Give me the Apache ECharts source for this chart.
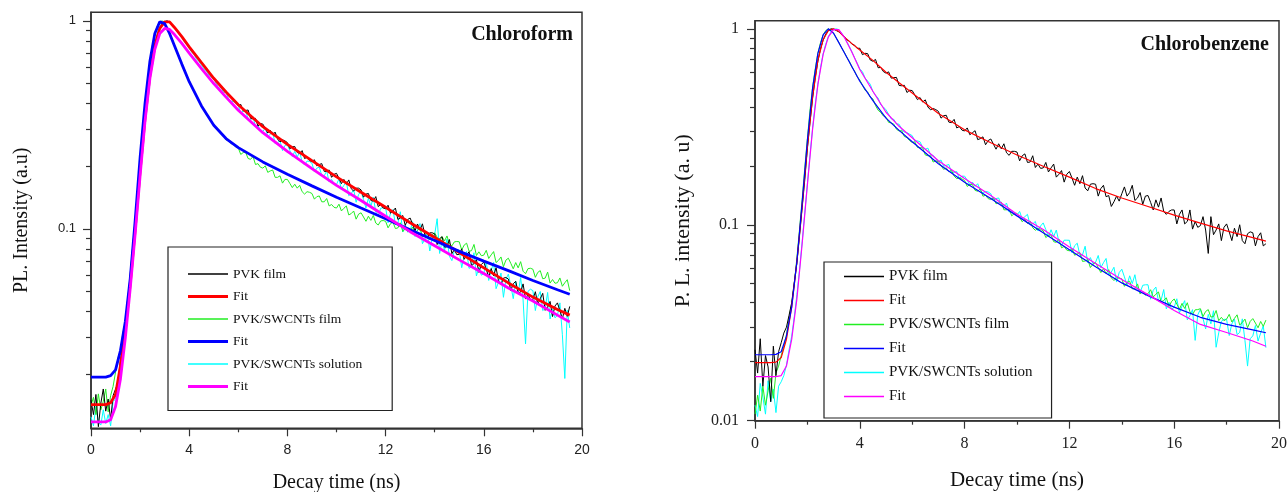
<!DOCTYPE html>
<html><head><meta charset="utf-8">
<script src="https://cdn.jsdelivr.net/npm/echarts@6.0.0/dist/echarts.min.js"></script>
<style>html,body{margin:0;padding:0;background:#fff}#c{width:1288px;height:492px}</style>
</head><body><div id="c"></div>
<script>
// ---------- data ----------
const SAMPLE_STEP = 0.1; // measured decay curves sampled every 0.1 ns from 0 to 19.5 ns

const fitTime = [0,0.6,0.8,1.0,1.2,1.4,1.6,1.8,2.0,2.2,2.4,2.6,2.8,3.0,3.2,3.4,3.7,4.0,4.5,5.0,5.5,6.0,7,8,9,10,11,12,13,14,15,16,17,18,19,19.5];

// Chloroform (left)
const leftFitPVK = [.0143,.0143,.0146,.016,.022,.033,.055,.10,.19,.34,.55,.76,.92,.99,.99,.93,.84,.75,.63,.53,.455,.395,.31,.255,.213,.178,.15,.127,.107,.091,.077,.065,.055,.047,.041,.0385];
const leftFitFilm = [.0194,.0194,.0197,.021,.026,.036,.058,.11,.22,.40,.64,.87,.99,.97,.87,.76,.62,.51,.39,.315,.272,.246,.21,.183,.161,.142,.126,.112,.099,.088,.078,.07,.063,.0565,.051,.0485];
const leftFitSolution = [.0118,.0118,.0121,.014,.019,.030,.052,.095,.18,.33,.53,.73,.87,.92,.91,.86,.78,.70,.59,.50,.43,.372,.29,.236,.195,.162,.137,.115,.097,.083,.071,.061,.052,.045,.0385,.0357];

const leftPVK = [
.0150,.0128,.0160,.0112,.0145,.0170,.0133,.0152,.0121,.0158,
.0170,.0182,.0235,.0262,.0350,.0420,.0580,.0730,.1040,.1380,
.1920,.2620,.3380,.4450,.5450,.6600,.7550,.8500,.9150,.9650,
.9900,1.000,.9850,.9650,.9280,.9050,.8650,.8450,.8050,.7850,
.7450,.7300,.6950,.6820,.6480,.6350,.6040,.5930,.5640,.5530,
.5260,.5190,.4950,.4880,.4650,.4600,.4380,.4340,.4140,.4100,
.391,.397,.369,.371,.373,.340,.338,.340,.312,.321,
.319,.304,.289,.298,.284,.292,.270,.262,.268,.265,
.260,.243,.248,.249,.233,.231,.238,.218,.221,.213,
.211,.215,.201,.204,.206,.189,.189,.192,.177,.183,
.185,.175,.165,.173,.164,.172,.156,.152,.157,.157,
.154,.142,.147,.148,.137,.136,.143,.128,.131,.126,
.125,.130,.119,.122,.126,.111,.113,.116,.104,.111,
.1128,.1053,.0980,.1056,.0985,.1058,.0936,.0903,.0957,.0958,
.0946,.0841,.0898,.0917,.0817,.0820,.0889,.0760,.0796,.0752,
.0755,.0802,.0714,.0747,.0777,.0665,.0681,.0711,.0618,.0674,
.0693,.0639,.0587,.0645,.0595,.0651,.0562,.0540,.0580,.0584,
.0574,.0505,.0545,.0560,.0493,.0497,.0544,.0460,.0485,.0456,
.0458,.0499,.0434,.0462,.0490,.0406,.0422,.0448,.0379,.0426,
.0441,.0405,.0370,.0415,.0380,.0424];

const leftFilm = [
.0142,.0155,.0128,.0161,.0135,.0148,.0170,.0132,.0158,.0175,
.0205,.0240,.0262,.0318,.0352,.0470,.0560,.0830,.1080,.1580,
.2150,.3050,.3950,.5150,.6350,.7650,.8650,.9450,.9900,1.000,
.975,.930,.872,.818,.760,.712,.664,.622,.578,.546,
.512,.482,.462,.432,.412,.388,.375,.354,.344,.326,
.318,.303,.299,.285,.282,.268,.267,.257,.256,.247,
.245,.228,.233,.233,.218,.216,.223,.204,.206,.198,
.196,.201,.187,.190,.192,.177,.177,.180,.166,.173,
.173,.1655,.158,.164,.157,.162,.151,.147,.151,.150,
.148,.139,.143,.144,.135,.135,.140,.129,.131,.127,
.126,.1315,.122,.1256,.129,.1167,.1185,.1219,.1114,.1178,
.1195,.1141,.1088,.1151,.1099,.1161,.1067,.1044,.1092,.1097,
.1088,.1012,.1060,.1078,.1004,.1011,.1070,.0971,.1003,.0971,
.0977,.1021,.0951,.0982,.1011,.0917,.0935,.0965,.0885,.0939,
.0956,.0912,.0868,.0918,.0875,.0925,.0848,.0829,.0866,.0870,
.0867,.0792,.0836,.0854,.0781,.0786,.0842,.0745,.0776,.0743,
.0748,.0789,.0721,.0750,.0778,.0689,.0706,.0733,.0658,.0708,
.0723,.0683,.0643,.0689,.0650,.0696,.0626,.0609,.0644,.0647,
.0640,.0585,.0618,.0630,.0576,.0580,.0620,.0549,.0571,.0548,
.0551,.0581,.0530,.0551,.0570,.0505];

const leftSolution = [
.0125,.0113,.0140,.0118,.0114,.0135,.0116,.0128,.0113,.0148,
.0152,.0175,.0205,.0255,.0320,.0420,.0560,.0740,.1000,.1380,
.1900,.2600,.3500,.4550,.5650,.6750,.7800,.8700,.9400,.9800,
.9950,1.000,.9800,.9550,.9200,.8900,.8600,.8300,.7950,.7700,
.738,.708,.688,.655,.637,.612,.588,.575,.548,.536,
.526,.501,.475,.478,.453,.455,.422,.412,.409,.402,
.392,.360,.369,.368,.338,.334,.346,.310,.314,.299,
.294,.306,.278,.285,.292,.257,.260,.266,.238,.252,
.254,.238,.223,.236,.222,.234,.210,.203,.212,.211,
.207,.188,.196,.198,.181,.180,.190,.168,.173,.165,
.1635,.1739,.1549,.1619,.1685,.1443,.1479,.1544,.1343,.1463,
.1517,.1386,.1260,.1406,.1282,.1422,.1207,.1155,.1257,.1265,
.1268,.1070,.1190,.1239,.1050,.1065,.1209,.0966,.1043,.0965,
.0979,.1083,.0919,.0992,.1061,.0849,.0891,.0959,.0783,.0903,
.0941,.1120,.0762,.0873,.0787,.0894,.0739,.0704,.0785,.0795,
.0790,.0651,.0742,.0779,.0646,.0660,.0768,.0594,.0654,.0599,
.0609,.0699,.0565,.0630,.0690,.0516,.0554,.0613,.0469,.0572,
.0606,.0534,.0462,.0559,.0490,.0584,.0456,.0280,.0501,.0513,
.0505,.0405,.0472,.0500,.0405,.0415,.0495,.0369,.0413,.0374,
.0384,.0441,.0310,.0191,.0407,.0334];

// Chlorobenzene (right)
const rightFitPVK = [.0198,.0198,.0199,.021,.026,.038,.065,.125,.25,.45,.69,.88,.98,1.0,.97,.91,.84,.78,.69,.60,.53,.47,.37,.305,.262,.227,.199,.175,.153,.137,.124,.112,.102,.093,.086,.0825];
const rightFitFilm = [.0217,.0217,.0218,.0225,.027,.038,.065,.13,.27,.50,.75,.93,1.0,.95,.85,.76,.64,.54,.43,.35,.303,.265,.205,.165,.136,.111,.091,.0745,.061,.0505,.0435,.038,.0337,.031,.0291,.0281];
const rightFitSolution = [.0168,.0168,.0168,.017,.019,.026,.042,.08,.16,.31,.52,.74,.91,.99,.99,.91,.76,.62,.48,.375,.318,.278,.212,.172,.141,.113,.0945,.077,.0635,.0525,.044,.0365,.031,.0282,.0255,.024];

const rightPVK = [
.0230,.0175,.0262,.0150,.0215,.0188,.0125,.0240,.0170,.0225,
.0250,.0280,.0300,.0345,.0400,.0510,.0640,.0880,.1220,.1700,
.2450,.3350,.4450,.5650,.6850,.7900,.8750,.9400,.9800,1.000,
.9950,.9800,.9650,.9400,.9150,.8800,.8650,.8350,.8250,.7950,
.796,.738,.750,.747,.693,.683,.698,.633,.635,.605,
.594,.603,.560,.563,.565,.514,.512,.515,.473,.486,
.484,.459,.435,.446,.423,.434,.399,.386,.392,.387,
.379,.350,.360,.362,.334,.332,.345,.312,.317,.304,
.301,.312,.288,.295,.302,.272,.275,.281,.256,.269,
.274,.258,.243,.259,.244,.259,.233,.226,.237,.237,
.235,.212,.225,.230,.208,.209,.225,.196,.204,.194,
.195,.208,.186,.195,.204,.175,.181,.189,.165,.181,
.187,.173,.159,.175,.162,.178,.154,.149,.161,.162,
.161,.140,.153,.159,.139,.141,.124,.131,.140,.132,
.144,.156,.140,.146,.159,.133,.137,.146,.127,.140,
.141,.130,.119,.134,.123,.137,.117,.113,.117,.119,
.119,.101,.113,.119,.101,.104,.119,.095,.104,.097,
.099,.110,.094,.0714,.110,.089,.094,.101,.083,.097,
.101,.092,.083,.096,.087,.100,.083,.080,.090,.092,
.091,.078,.087,.091,.078,.080];

const rightFilm = [
.0108,.0135,.0112,.0150,.0120,.0142,.0165,.0130,.0175,.0190,
.0215,.0240,.0275,.0335,.0395,.0500,.0680,.0950,.1350,.1950,
.2750,.3850,.5050,.6250,.7500,.8500,.9300,.9800,1.000,.9800,
.9480,.8980,.8520,.8030,.7620,.7180,.6820,.6380,.6080,.5700,
.548,.516,.486,.476,.448,.439,.406,.384,.374,.359,
.354,.333,.331,.326,.307,.301,.302,.282,.279,.269,
.263,.265,.248,.247,.247,.227,.225,.225,.209,.212,
.210,.2006,.1916,.1952,.1864,.1898,.1770,.1719,.1737,.1713,
.1683,.1569,.1604,.1604,.1497,.1483,.1529,.1399,.1414,.1359,
.1346,.1373,.1280,.1292,.1304,.1192,.1192,.1204,.1110,.1144,
.1143,.1088,.1035,.1067,.1015,.1045,.0965,.0937,.0956,.0947,
.0932,.0860,.0884,.0888,.0820,.0813,.0846,.0763,.0775,.0742,
.0736,.0756,.0699,.0710,.0721,.0650,.0653,.0664,.0605,.0629,
.0640,.0605,.0570,.0597,.0564,.0590,.0536,.0519,.0537,.0534,
.0530,.0485,.0508,.0515,.0471,.0471,.0499,.0443,.0457,.0437,
.0445,.0466,.0428,.0442,.0454,.0404,.0411,.0424,.0382,.0406,
.0418,.0394,.0371,.0397,.0374,.0400,.0360,.0348,.0368,.0369,
.0373,.0340,.0361,.0369,.0338,.0340,.0365,.0324,.0337,.0324,
.0330,.0349,.0319,.0333,.0347,.0308,.0317,.0330,.0298,.0321,
.0332,.0315,.0298,.0321,.0303,.0326];

const rightSolution = [
.0120,.0105,.0155,.0132,.0108,.0160,.0125,.0145,.0110,.0150,
.0158,.0170,.0192,.0230,.0270,.0340,.0440,.0590,.0820,.1150,
.1620,.2280,.3120,.4150,.5200,.6350,.7450,.8350,.9120,.9620,
.9920,1.000,.9900,.9520,.9130,.8620,.8130,.7620,.7120,.6680,
.623,.605,.561,.541,.521,.478,.458,.443,.409,.399,
.386,.366,.347,.345,.327,.326,.307,.297,.295,.290,
.285,.267,.268,.265,.248,.243,.246,.227,.226,.217,
.210,.214,.199,.201,.203,.185,.185,.187,.172,.177,
.177,.169,.160,.165,.157,.162,.150,.145,.148,.147,
.144,.133,.136,.137,.126,.125,.129,.116,.118,.113,
.112,.117,.107,.110,.113,.0996,.101,.104,.093,.0986,
.1022,.0945,.0870,.0943,.0871,.0940,.0819,.0785,.0834,.0834,
.0833,.0719,.0782,.0805,.0698,.0702,.0777,.0641,.0680,.0633,
.0644,.0697,.0604,.0640,.0673,.0555,.0574,.0607,.0510,.0570,
.0593,.0542,.0492,.0549,.0501,.0556,.0471,.0451,.0491,.0494,
.0494,.0417,.0463,.0481,.0407,.0412,.0467,.0372,.0402,.0371,
.0379,.0419,.0355,.0384,.0410,.0327,.0344,.0369,.0257,.0347,
.0370,.0332,.0294,.0349,.0312,.0364,.0237,.0281,.0322,.0329,
.0329,.0272,.0312,.0330,.0275,.0282,.0331,.0257,.0190,.0262,
.0271,.0306,.0255,.0280,.0305,.0236];

const xTicks = {min: 0, max: 20, interval: 4};
const leftYRange = [0.011, 1.1];
const rightYRange = [0.01, 1.1];
const leftMajorTicks = [0.1, 1];
const leftMajorLabels = ['0.1', '1'];
const rightMajorTicks = [0.01, 0.1, 1];
const rightMajorLabels = ['0.01', '0.1', '1'];
const minorTicks = [0.02,0.03,0.04,0.05,0.06,0.07,0.08,0.09,0.2,0.3,0.4,0.5,0.6,0.7,0.8,0.9];

const seriesNames = ['PVK film', 'Fit', 'PVK/SWCNTs film', 'Fit', 'PVK/SWCNTs solution', 'Fit'];
const colors = ['#000000', '#ff0000', '#22ee22', '#0000ff', '#00ffff', '#ff00ff'];

// ---------- chart ----------
const sampleTime = leftPVK.map((_, i) => +(i * SAMPLE_STEP).toFixed(1));
const pairs = (t, v) => v.map((y, i) => [t[i], y]);
const AX = '#333';
const serif = 'Liberation Serif';
const sans = 'Liberation Sans';

function mk(prefix, idx, xi, yi, t, v, width, z) {
  return {
    type: 'line', name: prefix + ':' + idx, xAxisIndex: xi, yAxisIndex: yi,
    data: pairs(t, v), showSymbol: false, symbol: 'none', silent: true,
    lineStyle: {color: colors[idx], width}, itemStyle: {color: colors[idx]}, z
  };
}
const nameFmt = n => seriesNames[+n.split(':')[1]];
const lineIcon = h => 'path://M0,0H40V' + h + 'H0Z';

function xAx(gi, font, size, margin, nameSize, nameGap) {
  return {
    type: 'value', gridIndex: gi, min: xTicks.min, max: xTicks.max, interval: xTicks.interval,
    name: 'Decay time (ns)', nameLocation: 'middle', nameGap,
    nameTextStyle: {fontFamily: serif, fontSize: nameSize, color: '#111'},
    axisLine: {show: true, onZero: false, lineStyle: {color: AX, width: 1.5}},
    axisTick: {show: true, inside: false, length: 8, lineStyle: {color: AX, width: 1.2}},
    minorTick: {show: true, splitNumber: 2, length: 4, lineStyle: {color: AX, width: 1.2}},
    splitLine: {show: false}, minorSplitLine: {show: false},
    axisLabel: {fontFamily: font, fontSize: size, color: '#222', margin}
  };
}
function yMajor(gi, range, ticks, labels, font, size, margin, name, nameSize, nameGap) {
  return {
    type: 'log', logBase: 10, gridIndex: gi, min: range[0], max: range[1],
    name, nameLocation: 'middle', nameGap,
    nameTextStyle: {fontFamily: serif, fontSize: nameSize, color: '#111'},
    axisLine: {show: true, onZero: false, lineStyle: {color: AX, width: 1.5}},
    axisTick: {show: true, inside: false, length: 8, customValues: ticks, lineStyle: {color: AX, width: 1.2}},
    splitLine: {show: false},
    axisLabel: {
      customValues: ticks, fontFamily: font, fontSize: size, color: '#222', margin,
      formatter: v => { const k = ticks.findIndex(t => Math.abs(t - v) / t < 1e-6); return k < 0 ? '' : labels[k]; }
    }
  };
}
function yMinor(gi, range) {
  return {
    type: 'log', logBase: 10, gridIndex: gi, min: range[0], max: range[1], position: 'left', offset: 0,
    axisLine: {show: false}, splitLine: {show: false}, axisLabel: {show: false},
    axisTick: {show: true, inside: false, length: 5, customValues: minorTicks, lineStyle: {color: AX, width: 1.2}}
  };
}

const leftSeries = [
  mk('L', 4, 0, 0, sampleTime, leftSolution, 1, 2),
  mk('L', 2, 0, 0, sampleTime, leftFilm, 1, 2),
  mk('L', 0, 0, 0, sampleTime, leftPVK, 1, 2),
  mk('L', 1, 0, 0, fitTime, leftFitPVK, 2.8, 3),
  mk('L', 3, 0, 0, fitTime, leftFitFilm, 2.8, 3),
  mk('L', 5, 0, 0, fitTime, leftFitSolution, 2.8, 3)
];
const rightSeries = [
  mk('R', 4, 1, 2, sampleTime, rightSolution, 1, 2),
  mk('R', 2, 1, 2, sampleTime, rightFilm, 1, 2),
  mk('R', 0, 1, 2, sampleTime, rightPVK, 1, 2),
  mk('R', 1, 1, 2, fitTime, rightFitPVK, 1.2, 3),
  mk('R', 3, 1, 2, fitTime, rightFitFilm, 1.2, 3),
  mk('R', 5, 1, 2, fitTime, rightFitSolution, 1.2, 3)
];

const leftLegendWidths = [1.4, 3, 1.4, 3, 1.4, 3];
const rightLegendWidths = [1.6, 1.6, 1.6, 1.6, 1.6, 1.6];

const gridBase = {show: true, borderColor: AX, borderWidth: 1.5, backgroundColor: 'transparent', containLabel: false, outerBoundsMode: 'none'};

const chart = echarts.init(document.getElementById('c'), null, {renderer: 'canvas'});
chart.setOption({
  animation: false,
  backgroundColor: '#fff',
  grid: [
    Object.assign({left: 91, top: 12.3, width: 491, height: 416}, gridBase),
    Object.assign({left: 755, top: 20.7, width: 524, height: 400}, gridBase)
  ],
  xAxis: [xAx(0, sans, 14, 15, 20, 44), xAx(1, serif, 16, 15, 21, 49)],
  yAxis: [
    yMajor(0, leftYRange, leftMajorTicks, leftMajorLabels, sans, 13, 15, 'PL. Intensity (a.u)', 20, 59),
    yMinor(0, leftYRange),
    yMajor(1, rightYRange, rightMajorTicks, rightMajorLabels, serif, 16, 16, 'P. L. intensity (a. u)', 22, 61),
    yMinor(1, rightYRange)
  ],
  title: [
    {text: 'Chloroform', right: 1288 - 573, top: 25, padding: 0, textStyle: {fontFamily: serif, fontWeight: 'bold', fontSize: 20, color: '#111'}},
    {text: 'Chlorobenzene', right: 1288 - 1269, top: 35, padding: 0, textStyle: {fontFamily: serif, fontWeight: 'bold', fontSize: 20, color: '#111'}}
  ],
  legend: [
    {
      data: leftLegendWidths.map((h, i) => ({name: 'L:' + i, icon: lineIcon(h)})),
      formatter: nameFmt, selectedMode: false,
      orient: 'vertical', left: 168, top: 247, itemWidth: 40, itemHeight: 14, itemGap: 8.5,
      padding: [20, 30, 17, 20], borderColor: '#222', borderWidth: 1.2,
      textStyle: {fontFamily: serif, fontSize: 13.5, color: '#111'}
    },
    {
      data: rightLegendWidths.map((h, i) => ({name: 'R:' + i, icon: lineIcon(h)})),
      formatter: nameFmt, selectedMode: false,
      orient: 'vertical', left: 824, top: 262, itemWidth: 40, itemHeight: 14, itemGap: 9,
      padding: [7, 19, 14, 20], borderColor: '#222', borderWidth: 1.2,
      textStyle: {fontFamily: serif, fontSize: 15, color: '#111'}
    }
  ],
  series: leftSeries.concat(rightSeries)
});
</script>
</body></html>
